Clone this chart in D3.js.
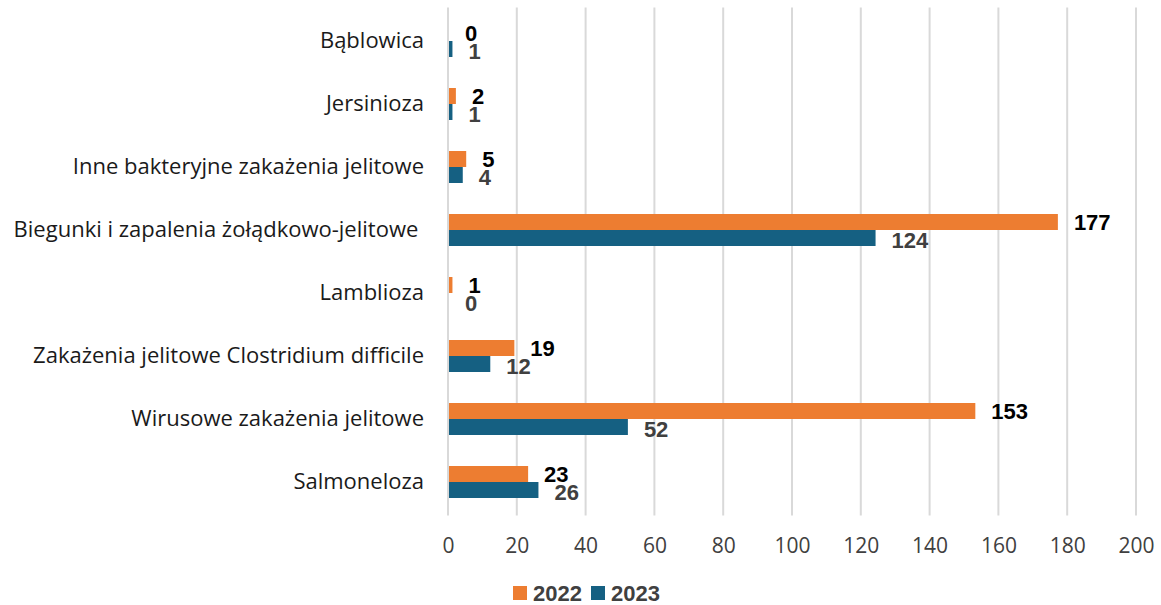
<!DOCTYPE html>
<html>
<head>
<meta charset="utf-8">
<script src="https://cdn.jsdelivr.net/npm/d3@7"></script>
<style>
  body { margin: 0; background: #fff; }
  svg text { font-family: "Open Sans", "Noto Sans", sans-serif; }
</style>
</head>
<body>
<div id="chart"></div>
<script>
// categories top to bottom
const categories = [
    "Bąblowica",
    "Jersinioza",
    "Inne bakteryjne zakażenia jelitowe",
    "Biegunki i zapalenia żołądkowo-jelitowe\u00a0",
    "Lamblioza",
    "Zakażenia jelitowe Clostridium difficile",
    "Wirusowe zakażenia jelitowe",
    "Salmoneloza"
];
const values2022 = [0, 2, 5, 177, 1, 19, 153, 23];
const values2023 = [1, 1, 4, 124, 0, 12, 52, 26];
const seriesNames = ["2022", "2023"];
const xTicks = [0, 20, 40, 60, 80, 100, 120, 140, 160, 180, 200];

const width = 1161, height = 605;
const plotLeft = 448, plotRight = 1136, plotTop = 9.5, plotBottom = 513.5;

const svg = d3.select("#chart")
    .append("svg")
    .attr("width", width)
    .attr("height", height);

const x = d3.scaleLinear().domain([0, 200]).range([plotLeft, plotRight]);
const y = d3.scaleBand().domain(categories).range([plotTop, plotBottom]);
const barH = 16;

// gridlines
svg.append("g")
    .selectAll("line")
    .data(xTicks)
    .join("line")
    .attr("x1", d => x(d))
    .attr("x2", d => x(d))
    .attr("y1", plotTop - 2)
    .attr("y2", plotBottom + 2)
    .attr("stroke", "#d9d9d9")
    .attr("stroke-width", 2);

// x tick labels
const xAxis = svg.append("g")
    .attr("transform", `translate(0,${plotBottom})`)
    .call(d3.axisBottom(x).tickValues(xTicks).tickSize(0).tickPadding(25));
xAxis.select(".domain").remove();
xAxis.selectAll("text")
    .attr("fill", "#404040")
    .style("font-size", "21px");

// category labels
const yAxis = svg.append("g")
    .attr("transform", `translate(${plotLeft - 24},0)`)
    .call(d3.axisLeft(y).tickSize(0).tickPadding(0));
yAxis.select(".domain").remove();
yAxis.selectAll("text")
    .attr("fill", "#1a1a1a")
    .style("font-size", "22px")
    .attr("dy", "0.33em");

const colors = {"2022": "#ED7D31", "2023": "#156082"};
const rows = categories.map((c, i) => ({cat: c, v22: values2022[i], v23: values2023[i]}));

// bars
const g = svg.append("g");
rows.forEach(r => {
    const cy = y(r.cat) + y.bandwidth() / 2;
    g.append("rect")
        .attr("x", x(0) + 1)
        .attr("y", cy - barH)
        .attr("width", Math.max(0, x(r.v22) - x(0)))
        .attr("height", barH)
        .attr("fill", colors["2022"]);
    g.append("rect")
        .attr("x", x(0) + 1)
        .attr("y", cy)
        .attr("width", Math.max(0, x(r.v23) - x(0)))
        .attr("height", barH)
        .attr("fill", colors["2023"]);
    g.append("text")
        .attr("x", x(r.v22) + 17)
        .attr("y", cy - barH / 2)
        .attr("dy", "0.35em")
        .attr("fill", "#000")
        .style("font-family", "'Liberation Sans', Arial, sans-serif")
        .style("font-weight", "bold")
        .style("font-size", "22px")
        .text(r.v22);
    g.append("text")
        .attr("x", x(r.v23) + 17)
        .attr("y", cy + barH / 2 + 2)
        .attr("dy", "0.35em")
        .attr("fill", "#404040")
        .style("font-family", "'Liberation Sans', Arial, sans-serif")
        .style("font-weight", "bold")
        .style("font-size", "22px")
        .text(r.v23);
});

// legend
const legend = svg.append("g").attr("transform", "translate(513,586)");
seriesNames.forEach((s, i) => {
    const lx = i * 78;
    legend.append("rect")
        .attr("x", lx).attr("y", 0)
        .attr("width", 14).attr("height", 14)
        .attr("fill", colors[s]);
    legend.append("text")
        .attr("x", lx + 20).attr("y", 7)
        .attr("dy", "0.36em")
        .attr("fill", "#404040")
        .style("font-family", "'Liberation Sans', Arial, sans-serif")
        .style("font-weight", "bold")
        .style("font-size", "22px")
        .text(s);
});
</script>
</body>
</html>
